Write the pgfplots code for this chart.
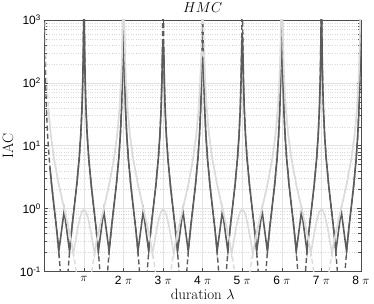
\documentclass[border=0pt]{standalone}
\usepackage{fontspec}
\usepackage{pgfplots}
\pgfplotsset{compat=1.18}
\newfontfamily\ticksans{Liberation Sans}
\definecolor{darkc}{gray}{0.36}
\definecolor{lightc}{gray}{0.86}
\definecolor{gridc}{gray}{0.89}
\definecolor{axc}{gray}{0.3}
\begin{document}
\begin{tikzpicture}
\useasboundingbox (-44.4pt,-32.5pt) rectangle (329.6pt,271.5pt);
\begin{axis}[
  at={(0,0)}, anchor=south west,
  scale only axis, width=316.6pt, height=251.5pt,
  xmin=0, xmax=8, ymode=log, ymin=0.1, ymax=1000,
  xtick={1,2,3,4,5,6,7,8},
  xticklabels={$\pi$,{2 $\pi$},{3 $\pi$},{4 $\pi$},{5 $\pi$},{6 $\pi$},{7 $\pi$},{8 $\pi$}},
  ytick={0.1,1,10,100,1000},
  yticklabels={10\textsuperscript{-1},10\textsuperscript{0},10\textsuperscript{1},10\textsuperscript{2},10\textsuperscript{3}},
  minor ytick={0.2,0.3,0.4,0.5,0.6,0.7,0.8,0.9,2,3,4,5,6,7,8,9,20,30,40,50,60,70,80,90,200,300,400,500,600,700,800,900},
  tick label style={font=\ticksans\fontsize{12}{14}\selectfont},
  yticklabel style={xshift=0pt},
  xticklabel style={yshift=-1pt},
  xmajorgrids, ymajorgrids, yminorgrids,
  major grid style={gridc, line width=0.6pt},
  minor grid style={gray!30, dotted, line width=0.5pt},
  tick align=inside, tick pos=both,
  major tick length=4pt, minor tick length=2.5pt,
  axis line style={axc, line width=0.6pt},
  tick style={axc, line width=0.5pt},
  title={$HMC$},
  title style={at={(axis description cs:0.5,1)}, anchor=base, yshift=1pt, inner sep=0pt, font=\fontsize{14}{16}\selectfont},
  xlabel={duration $\lambda$},
  xlabel style={at={(axis description cs:0.5,0)}, anchor=base, yshift=-28.5pt, inner sep=0pt, font=\fontsize{15}{17}\selectfont},
  ylabel={IAC},
  ylabel style={at={(axis description cs:-0.099,0.5)}, anchor=base, inner sep=0pt, font=\fontsize{15}{17}\selectfont},
]
% dark dashed (theory, period pi)
\addplot[darkc, line width=1.4pt, dash pattern=on 5pt off 3pt] coordinates {
(0.005,4053)(0.01,1011)(0.02,252.6)(0.03,111.9)(0.05,39.86)(0.08,15.17)(0.12,6.38)(0.18,2.48)(0.25,1)(0.30,0.528)(0.34,0.302)(0.37,0.187)(0.40,0.1056)(0.42,0.0659)(0.45,0.025)(0.55,0.025)(0.58,0.0659)(0.60,0.1056)(0.63,0.187)(0.66,0.302)(0.70,0.528)(0.75,1)(0.82,2.48)(0.88,6.38)(0.92,15.17)(0.95,39.86)(0.97,111.9)(0.98,252.6)(0.99,1011)(0.995,4053)
(1.005,4053)(1.01,1011)(1.02,252.6)(1.03,111.9)(1.05,39.86)(1.08,15.17)(1.12,6.38)(1.18,2.48)(1.25,1)(1.30,0.528)(1.34,0.302)(1.37,0.187)(1.40,0.1056)(1.42,0.0659)(1.45,0.025)(1.55,0.025)(1.58,0.0659)(1.60,0.1056)(1.63,0.187)(1.66,0.302)(1.70,0.528)(1.75,1)(1.82,2.48)(1.88,6.38)(1.92,15.17)(1.95,39.86)(1.97,111.9)(1.98,252.6)(1.99,1011)(1.995,4053)
(2.005,4053)(2.01,1011)(2.02,252.6)(2.03,111.9)(2.05,39.86)(2.08,15.17)(2.12,6.38)(2.18,2.48)(2.25,1)(2.30,0.528)(2.34,0.302)(2.37,0.187)(2.40,0.1056)(2.42,0.0659)(2.45,0.025)(2.55,0.025)(2.58,0.0659)(2.60,0.1056)(2.63,0.187)(2.66,0.302)(2.70,0.528)(2.75,1)(2.82,2.48)(2.88,6.38)(2.92,15.17)(2.95,39.86)(2.97,111.9)(2.98,252.6)(2.99,1011)(2.995,4053)
(3.005,4053)(3.01,1011)(3.02,252.6)(3.03,111.9)(3.05,39.86)(3.08,15.17)(3.12,6.38)(3.18,2.48)(3.25,1)(3.30,0.528)(3.34,0.302)(3.37,0.187)(3.40,0.1056)(3.42,0.0659)(3.45,0.025)(3.55,0.025)(3.58,0.0659)(3.60,0.1056)(3.63,0.187)(3.66,0.302)(3.70,0.528)(3.75,1)(3.82,2.48)(3.88,6.38)(3.92,15.17)(3.95,39.86)(3.97,111.9)(3.98,252.6)(3.99,1011)(3.995,4053)
(4.005,4053)(4.01,1011)(4.02,252.6)(4.03,111.9)(4.05,39.86)(4.08,15.17)(4.12,6.38)(4.18,2.48)(4.25,1)(4.30,0.528)(4.34,0.302)(4.37,0.187)(4.40,0.1056)(4.42,0.0659)(4.45,0.025)(4.55,0.025)(4.58,0.0659)(4.60,0.1056)(4.63,0.187)(4.66,0.302)(4.70,0.528)(4.75,1)(4.82,2.48)(4.88,6.38)(4.92,15.17)(4.95,39.86)(4.97,111.9)(4.98,252.6)(4.99,1011)(4.995,4053)
(5.005,4053)(5.01,1011)(5.02,252.6)(5.03,111.9)(5.05,39.86)(5.08,15.17)(5.12,6.38)(5.18,2.48)(5.25,1)(5.30,0.528)(5.34,0.302)(5.37,0.187)(5.40,0.1056)(5.42,0.0659)(5.45,0.025)(5.55,0.025)(5.58,0.0659)(5.60,0.1056)(5.63,0.187)(5.66,0.302)(5.70,0.528)(5.75,1)(5.82,2.48)(5.88,6.38)(5.92,15.17)(5.95,39.86)(5.97,111.9)(5.98,252.6)(5.99,1011)(5.995,4053)
(6.005,4053)(6.01,1011)(6.02,252.6)(6.03,111.9)(6.05,39.86)(6.08,15.17)(6.12,6.38)(6.18,2.48)(6.25,1)(6.30,0.528)(6.34,0.302)(6.37,0.187)(6.40,0.1056)(6.42,0.0659)(6.45,0.025)(6.55,0.025)(6.58,0.0659)(6.60,0.1056)(6.63,0.187)(6.66,0.302)(6.70,0.528)(6.75,1)(6.82,2.48)(6.88,6.38)(6.92,15.17)(6.95,39.86)(6.97,111.9)(6.98,252.6)(6.99,1011)(6.995,4053)
(7.005,4053)(7.01,1011)(7.02,252.6)(7.03,111.9)(7.05,39.86)(7.08,15.17)(7.12,6.38)(7.18,2.48)(7.25,1)(7.30,0.528)(7.34,0.302)(7.37,0.187)(7.40,0.1056)(7.42,0.0659)(7.45,0.025)(7.55,0.025)(7.58,0.0659)(7.60,0.1056)(7.63,0.187)(7.66,0.302)(7.70,0.528)(7.75,1)(7.82,2.48)(7.88,6.38)(7.92,15.17)(7.95,39.86)(7.97,111.9)(7.98,252.6)(7.99,1011)(7.995,4053)
};
% dark solid (estimate, period pi)
\addplot[darkc, line width=1.6pt] coordinates {
(0.14,4.52)(0.18,2.48)(0.25,1)(0.30,0.528)(0.34,0.302)(0.365,0.21)(0.5,0.93)(0.635,0.21)(0.66,0.302)(0.70,0.528)(0.75,1)(0.82,2.48)(0.88,6.38)(0.92,15.17)(0.95,39.86)(0.97,111.9)(0.98,252.6)(1,2000)
(1.02,252.6)(1.03,111.9)(1.05,39.86)(1.08,15.17)(1.12,6.38)(1.18,2.48)(1.25,1)(1.30,0.528)(1.34,0.302)(1.365,0.21)(1.5,0.93)(1.635,0.21)(1.66,0.302)(1.70,0.528)(1.75,1)(1.82,2.48)(1.88,6.38)(1.92,15.17)(1.95,39.86)(1.97,111.9)(1.98,252.6)(2,1000)
(2.02,252.6)(2.03,111.9)(2.05,39.86)(2.08,15.17)(2.12,6.38)(2.18,2.48)(2.25,1)(2.30,0.528)(2.34,0.302)(2.365,0.21)(2.5,0.93)(2.635,0.21)(2.66,0.302)(2.70,0.528)(2.75,1)(2.82,2.48)(2.88,6.38)(2.92,15.17)(2.95,39.86)(2.97,111.9)(2.98,252.6)(3,500)
(3.02,252.6)(3.03,111.9)(3.05,39.86)(3.08,15.17)(3.12,6.38)(3.18,2.48)(3.25,1)(3.30,0.528)(3.34,0.302)(3.365,0.21)(3.5,0.93)(3.635,0.21)(3.66,0.302)(3.70,0.528)(3.75,1)(3.82,2.48)(3.88,6.38)(3.92,15.17)(3.95,39.86)(3.97,111.9)(3.98,252.6)(4,1000)
(4.02,252.6)(4.03,111.9)(4.05,39.86)(4.08,15.17)(4.12,6.38)(4.18,2.48)(4.25,1)(4.30,0.528)(4.34,0.302)(4.365,0.21)(4.5,0.93)(4.635,0.21)(4.66,0.302)(4.70,0.528)(4.75,1)(4.82,2.48)(4.88,6.38)(4.92,15.17)(4.95,39.86)(4.97,111.9)(4.98,252.6)(5,630)
(5.02,252.6)(5.03,111.9)(5.05,39.86)(5.08,15.17)(5.12,6.38)(5.18,2.48)(5.25,1)(5.30,0.528)(5.34,0.302)(5.365,0.21)(5.5,0.93)(5.635,0.21)(5.66,0.302)(5.70,0.528)(5.75,1)(5.82,2.48)(5.88,6.38)(5.92,15.17)(5.95,39.86)(5.97,111.9)(5.98,252.6)(6,1000)
(6.02,252.6)(6.03,111.9)(6.05,39.86)(6.08,15.17)(6.12,6.38)(6.18,2.48)(6.25,1)(6.30,0.528)(6.34,0.302)(6.365,0.21)(6.5,0.93)(6.635,0.21)(6.66,0.302)(6.70,0.528)(6.75,1)(6.82,2.48)(6.88,6.38)(6.92,15.17)(6.95,39.86)(6.97,111.9)(6.98,252.6)(7,2000)
(7.02,252.6)(7.03,111.9)(7.05,39.86)(7.08,15.17)(7.12,6.38)(7.18,2.48)(7.25,1)(7.30,0.528)(7.34,0.302)(7.365,0.21)(7.5,0.93)(7.635,0.21)(7.66,0.302)(7.70,0.528)(7.75,1)(7.82,2.48)(7.88,6.38)(7.92,15.17)(7.95,39.86)(7.97,111.9)(7.98,252.6)(8,1000)
};
% light dashed (theory, period 2 pi)
\addplot[lightc, line width=1.4pt, dash pattern=on 5pt off 3pt] coordinates {
(0.01,4053)(0.02,1011)(0.04,252.6)(0.06,111.9)(0.10,39.86)(0.16,15.17)(0.24,6.38)(0.36,2.48)(0.5,1)(0.6,0.528)(0.68,0.302)(0.74,0.187)(0.80,0.1056)(0.84,0.0659)(0.90,0.025)(1.10,0.025)(1.16,0.0659)(1.20,0.1056)(1.26,0.187)(1.32,0.302)(1.40,0.528)(1.5,1)(1.64,2.48)(1.76,6.38)(1.84,15.17)(1.90,39.86)(1.94,111.9)(1.96,252.6)(1.98,1011)(1.99,4053)
(2.01,4053)(2.02,1011)(2.04,252.6)(2.06,111.9)(2.10,39.86)(2.16,15.17)(2.24,6.38)(2.36,2.48)(2.5,1)(2.6,0.528)(2.68,0.302)(2.74,0.187)(2.80,0.1056)(2.84,0.0659)(2.90,0.025)(3.10,0.025)(3.16,0.0659)(3.20,0.1056)(3.26,0.187)(3.32,0.302)(3.40,0.528)(3.5,1)(3.64,2.48)(3.76,6.38)(3.84,15.17)(3.90,39.86)(3.94,111.9)(3.96,252.6)(3.98,1011)(3.99,4053)
(4.01,4053)(4.02,1011)(4.04,252.6)(4.06,111.9)(4.10,39.86)(4.16,15.17)(4.24,6.38)(4.36,2.48)(4.5,1)(4.6,0.528)(4.68,0.302)(4.74,0.187)(4.80,0.1056)(4.84,0.0659)(4.90,0.025)(5.10,0.025)(5.16,0.0659)(5.20,0.1056)(5.26,0.187)(5.32,0.302)(5.40,0.528)(5.5,1)(5.64,2.48)(5.76,6.38)(5.84,15.17)(5.90,39.86)(5.94,111.9)(5.96,252.6)(5.98,1011)(5.99,4053)
(6.01,4053)(6.02,1011)(6.04,252.6)(6.06,111.9)(6.10,39.86)(6.16,15.17)(6.24,6.38)(6.36,2.48)(6.5,1)(6.6,0.528)(6.68,0.302)(6.74,0.187)(6.80,0.1056)(6.84,0.0659)(6.90,0.025)(7.10,0.025)(7.16,0.0659)(7.20,0.1056)(7.26,0.187)(7.32,0.302)(7.40,0.528)(7.5,1)(7.64,2.48)(7.76,6.38)(7.84,15.17)(7.90,39.86)(7.94,111.9)(7.96,252.6)(7.98,1011)(7.99,4053)
};
% light solid (estimate, period 2 pi)
\addplot[lightc, line width=1.6pt] coordinates {
(0.10,39.86)(0.16,15.17)(0.24,6.38)(0.36,2.48)(0.50,1)(0.60,0.528)(0.68,0.302)(0.73,0.19)(0.78,0.29)(0.84,0.48)(0.90,0.72)(0.95,0.9)(1.0,0.97)(1.05,0.9)(1.10,0.72)(1.16,0.48)(1.22,0.29)(1.27,0.19)(1.32,0.302)(1.40,0.528)(1.50,1)(1.64,2.48)(1.76,6.38)(1.84,15.17)(1.90,39.86)(1.94,111.9)(1.96,252.6)(1.98,1011)(2,3000)
(2.02,1011)(2.04,252.6)(2.06,111.9)(2.10,39.86)(2.16,15.17)(2.24,6.38)(2.36,2.48)(2.50,1)(2.60,0.528)(2.68,0.302)(2.73,0.19)(2.78,0.29)(2.84,0.48)(2.90,0.72)(2.95,0.9)(3.0,0.97)(3.05,0.9)(3.10,0.72)(3.16,0.48)(3.22,0.29)(3.27,0.19)(3.32,0.302)(3.40,0.528)(3.50,1)(3.64,2.48)(3.76,6.38)(3.84,15.17)(3.90,39.86)(3.94,111.9)(3.96,252.6)(4,300)
(4.04,252.6)(4.06,111.9)(4.10,39.86)(4.16,15.17)(4.24,6.38)(4.36,2.48)(4.50,1)(4.60,0.528)(4.68,0.302)(4.73,0.19)(4.78,0.29)(4.84,0.48)(4.90,0.72)(4.95,0.9)(5.0,0.97)(5.05,0.9)(5.10,0.72)(5.16,0.48)(5.22,0.29)(5.27,0.19)(5.32,0.302)(5.40,0.528)(5.50,1)(5.64,2.48)(5.76,6.38)(5.84,15.17)(5.90,39.86)(5.94,111.9)(5.96,252.6)(5.98,1011)(6,3000)
(6.02,1011)(6.04,252.6)(6.06,111.9)(6.10,39.86)(6.16,15.17)(6.24,6.38)(6.36,2.48)(6.50,1)(6.60,0.528)(6.68,0.302)(6.73,0.19)(6.78,0.29)(6.84,0.48)(6.90,0.72)(6.95,0.9)(7.0,0.97)(7.05,0.9)(7.10,0.72)(7.16,0.48)(7.22,0.29)(7.27,0.19)(7.32,0.302)(7.40,0.528)(7.50,1)(7.64,2.48)(7.76,6.38)(7.84,15.17)(7.90,39.86)(7.94,111.9)(7.96,252.6)(7.98,1011)(8,3000)
};
\end{axis}
\end{tikzpicture}
\end{document}
